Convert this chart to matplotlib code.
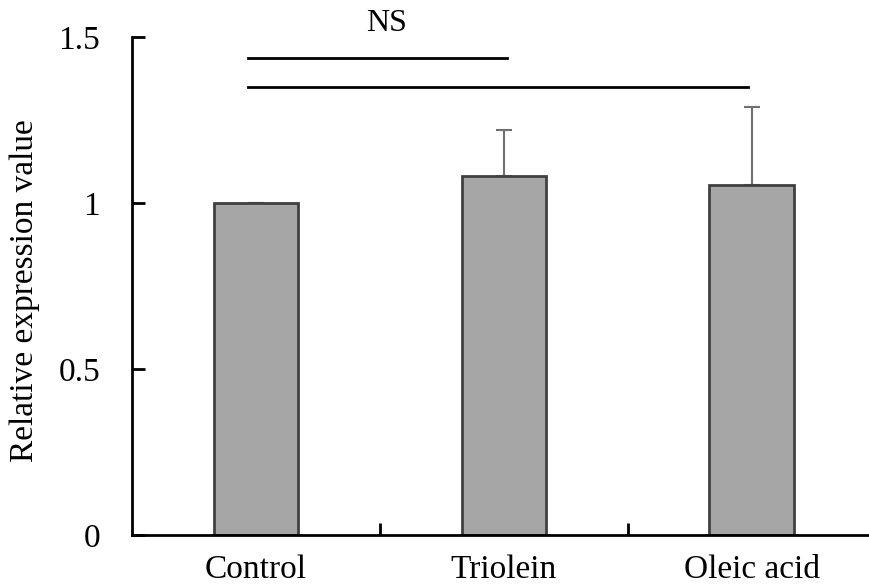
"""
    Relative expression value bar chart (Control / Triolein / Oleic acid).
"""

import numpy as np
import matplotlib
matplotlib.use("Agg")
import matplotlib.pyplot as plt

CATEGORIES = ["Control", "Triolein", "Oleic acid"]
MEANS = [1.0, 1.082, 1.054]
ERRORS = [0.0, 0.138, 0.236]
Y_TICKS = [0, 0.5, 1, 1.5]
Y_TICK_LABELS = ["0", "0.5", "1", "1.5"]
# significance brackets: (start, end, height)
SIG_LINES = [(-0.03, 1.015, 1.437), (-0.03, 1.985, 1.349)]
SIG_TEXT = "NS"

plt.rcParams['font.family'] = ['Liberation Serif', 'DejaVu Serif']

fig = plt.figure(figsize=(8.69, 5.87), dpi=100)
# axes span from x=132 to ~875 px (right end runs off the figure)
ax = fig.add_axes([132 / 869, 1 - 535 / 587, (875.5 - 132) / 869, (535 - 37) / 587])

x = np.arange(len(CATEGORIES))
ax.bar(x, MEANS, width=0.34, color="#a6a6a6", edgecolor="#404040", linewidth=2, zorder=2)
ax.errorbar(x, MEANS, yerr=[np.zeros(len(ERRORS)), ERRORS], fmt="none",
            ecolor="#707070", elinewidth=1.5, capsize=5.5, capthick=1.5, zorder=1)

for x0, x1, h in SIG_LINES:
    ax.plot([x0, x1], [h, h], color="black", linewidth=2, clip_on=False)
ax.text(0.526, 1.541, SIG_TEXT, ha="center", va="center", fontsize=23)

ax.set_xlim(-0.5, 2.5)
ax.set_ylim(0, 1.5)
ax.set_yticks(Y_TICKS)
ax.set_yticklabels(Y_TICK_LABELS, fontsize=24)
ax.set_xticks([0.5, 1.5])
ax.set_xticklabels([])
ax.set_xticks(x, minor=True)
ax.set_xticklabels(CATEGORIES, minor=True, fontsize=24)
ax.tick_params(axis="x", which="minor", length=0, pad=14)
ax.tick_params(axis="x", which="major", direction="in", length=9, width=2)
ax.tick_params(axis="y", direction="in", length=9, width=2, pad=23)
ax.set_ylabel("Relative expression value", fontsize=24, va="center")
ax.yaxis.set_label_coords((25 - 132) / 743.5, 0.49)

for side in ["top", "right"]:
    ax.spines[side].set_visible(False)
for side in ["left", "bottom"]:
    ax.spines[side].set_linewidth(2)

plt.savefig("out.png", dpi=100)
